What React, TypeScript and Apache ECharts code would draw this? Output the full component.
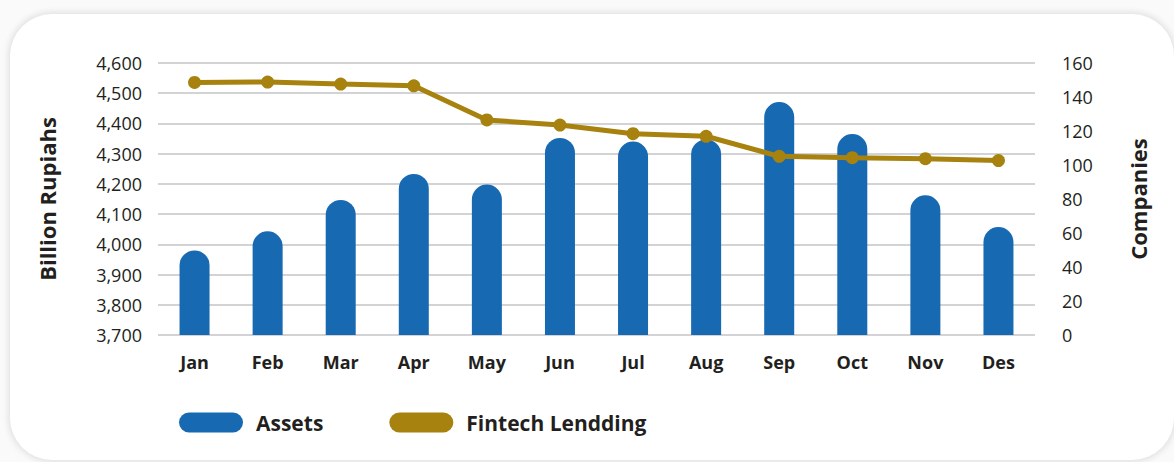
import React, { useEffect, useRef } from "react";
import * as echarts from "echarts";

const months = ["Jan", "Feb", "Mar", "Apr", "May", "Jun", "Jul", "Aug", "Sep", "Oct", "Nov", "Des"];
const assets = [3980, 4043, 4147, 4233, 4198, 4352, 4340, 4347, 4471, 4365, 4162, 4057];
const fintech = [148.6, 148.8, 147.6, 146.6, 126.5, 123.5, 118.4, 116.9, 105.1, 104.3, 103.7, 102.6];

const BLUE = "#1769b2";
const GOLD = "#a8820e";
const FONT = "Open Sans";
const pill = "path://M10,0 L54,0 A10,10 0 0 1 54,20 L10,20 A10,10 0 0 1 10,0 Z";

export default function App() {
  const ref = useRef<HTMLDivElement>(null);
  useEffect(() => {
    document.body.style.margin = "0";
    const chart = echarts.init(ref.current!, null, { renderer: "svg" });
    chart.setOption({
      animation: false,
      textStyle: { fontFamily: FONT },
      grid: { left: 158, right: 139, top: 63, bottom: 127 },
      legend: {
        left: 174,
        top: 407,
        itemWidth: 64,
        itemHeight: 20,
        itemGap: 66,
        textStyle: { fontFamily: FONT, fontSize: 21, fontWeight: "bold", color: "#231f20", padding: [0, 0, 0, 8] },
        data: [
          { name: "Assets", icon: pill, itemStyle: { color: BLUE } },
          { name: "Fintech Lendding", icon: pill, itemStyle: { color: GOLD } },
        ],
      },
      xAxis: {
        type: "category",
        data: months,
        axisLine: { show: false },
        axisTick: { show: false },
        axisLabel: { margin: 18, fontSize: 18, fontWeight: "bold", color: "#231f20", fontFamily: FONT },
      },
      yAxis: [
        {
          type: "value",
          min: 3700,
          max: 4600,
          interval: 100,
          name: "Billion Rupiahs",
          nameLocation: "middle",
          nameRotate: 90,
          nameGap: 100,
          nameTextStyle: { fontSize: 22, fontWeight: "bold", color: "#231f20", fontFamily: FONT },
          axisLine: { show: false },
          axisTick: { show: false },
          axisLabel: {
            margin: 16,
            fontSize: 18,
            color: "#231f20",
            fontFamily: FONT,
            formatter: (v: number) => v.toLocaleString("en-US"),
          },
          splitLine: { lineStyle: { color: "#c4c4c8", width: 1.5 } },
        },
        {
          type: "value",
          min: 0,
          max: 160,
          interval: 20,
          name: "Companies",
          nameLocation: "middle",
          nameRotate: 90,
          nameGap: 92,
          nameTextStyle: { fontSize: 22, fontWeight: "bold", color: "#231f20", fontFamily: FONT },
          axisLine: { show: false },
          axisTick: { show: false },
          axisLabel: { margin: 27, fontSize: 18, color: "#231f20", fontFamily: FONT },
          splitLine: { show: false },
        },
      ],
      series: [
        {
          name: "Assets",
          type: "bar",
          data: assets,
          barWidth: 30,
          itemStyle: { color: BLUE, borderRadius: [15, 15, 0, 0] },
        },
        {
          name: "Fintech Lendding",
          type: "line",
          yAxisIndex: 1,
          data: fintech,
          symbol: "circle",
          symbolSize: 13,
          lineStyle: { color: GOLD, width: 5 },
          itemStyle: { color: GOLD },
          z: 5,
        },
      ],
    });
    return () => chart.dispose();
  }, []);
  return (
    <div style={{ position: "fixed", left: 0, top: 0, width: 1174, height: 462, background: "#fafafa", overflow: "hidden" }}>
      <div
        style={{
          position: "absolute",
          left: 10,
          top: 14,
          width: 1164,
          height: 446,
          background: "#fff",
          borderRadius: 42,
          boxShadow: "0 0 6px 2px rgba(0,0,0,0.10)",
        }}
      />
      <div ref={ref} style={{ position: "absolute", left: 0, top: 0, width: 1174, height: 462 }} />
    </div>
  );
}
